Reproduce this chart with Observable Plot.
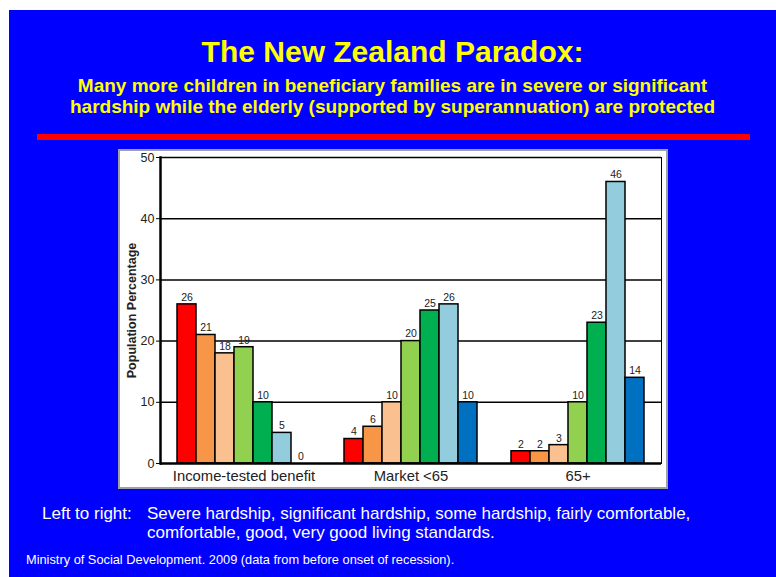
<!DOCTYPE html>
<html>
<head>
<meta charset="utf-8">
<script src="https://cdn.jsdelivr.net/npm/d3@7"></script>
<script src="https://cdn.jsdelivr.net/npm/@observablehq/plot@0.6"></script>
<style>
  html, body { margin: 0; padding: 0; background: #ffffff; }
  body { width: 776px; height: 577px; position: relative; overflow: hidden; font-family: Arial, "Liberation Sans", sans-serif; }
  #bg { position: absolute; left: 9px; top: 10px; width: 767px; height: 567px; background: #0000ff; }
  .t { position: absolute; white-space: nowrap; }
  #title { left: 9px; width: 767px; top: 37px; text-align: center; color: #ffff00; font-weight: bold; font-size: 30px; line-height: 30px; }
  #subtitle { left: 9px; width: 767px; top: 75px; text-align: center; color: #ffff00; font-weight: bold; font-size: 19px; line-height: 21px; }
  #redline { position: absolute; left: 37px; top: 134px; width: 713px; height: 6px; background: #ff0000; }
  #panel { position: absolute; left: 118px; top: 149px; border: 2px solid #a0a0a0; background: #ffffff; width: 546px; height: 336px; }
  #panel svg { display: block; overflow: visible; }
  #ltr { left: 42px; top: 504px; color: #ffffff; font-size: 17px; line-height: 19px; }
  #ltrtext { left: 147px; top: 504px; color: #ffffff; font-size: 17px; line-height: 19px; }
  #footer { left: 26px; top: 554px; color: #ffffff; font-size: 12.8px; line-height: 12px; }
</style>
</head>
<body>
<div id="bg"></div>
<div class="t" id="title">The New Zealand Paradox:</div>
<div class="t" id="subtitle">Many more children in beneficiary families are in severe or significant<br>hardship while the elderly (supported by superannuation) are protected</div>
<div id="redline"></div>
<div id="panel"></div>
<div class="t" id="ltr">Left to right:</div>
<div class="t" id="ltrtext">Severe hardship, significant hardship, some hardship, fairly comfortable,<br>comfortable, good, very good living standards.</div>
<div class="t" id="footer">Ministry of Social Development. 2009 (data from before onset of recession).</div>
<script>
const groups = ["Income-tested benefit", "Market <65", "65+"];
const levels = ["Severe hardship", "Significant hardship", "Some hardship", "Fairly comfortable", "Comfortable", "Good", "Very good"];
const incomeTested = [26, 21, 18, 19, 10, 5, 0];
const market65 = [4, 6, 10, 20, 25, 26, 10];
const over65 = [2, 2, 3, 10, 23, 46, 14];
const levelColors = ["#ff0000", "#f79646", "#fac090", "#92d050", "#00b050", "#93cddd", "#0070c0"];
const yTicks = [0, 10, 20, 30, 40, 50];
const gridValues = [10, 20, 30, 40, 50];
const yLabel = "Population Percentage";

const series = [incomeTested, market65, over65];
const data = groups.flatMap((g, gi) => levels.map((l, li) => ({group: g, level: l, value: series[gi][li]})));

const chart = Plot.plot({
  width: 546,
  height: 336,
  marginLeft: 40,
  marginTop: 6,
  marginRight: 5,
  marginBottom: 24,
  style: {background: "white", fontFamily: "Arial, 'Liberation Sans', sans-serif", color: "#222", overflow: "visible"},
  fx: {domain: groups, padding: 0, label: null},
  x: {domain: levels, paddingInner: 0, paddingOuter: 0.75, axis: null},
  y: {domain: [0, 50], label: null},
  color: {domain: levels, range: levelColors},
  marks: [
    Plot.ruleY(gridValues, {stroke: "black", strokeWidth: 1.5}),
    Plot.barY(data, {fx: "group", x: "level", y: "value", fill: "level", stroke: "black", strokeWidth: 1.5}),
    Plot.text(data, {fx: "group", x: "level", y: "value", text: d => String(d.value), dy: -7, fontSize: 10.5, fill: "#222"}),
    Plot.ruleY([0], {stroke: "black", strokeWidth: 2.5}),
    Plot.frame({anchor: "left", facetAnchor: "left", stroke: "black", strokeWidth: 2.5}),
    Plot.frame({anchor: "right", facetAnchor: "right", stroke: "black", strokeWidth: 1}),
    Plot.axisY({ticks: yTicks, tickSize: 4, tickPadding: 2, fontSize: 12.5, label: null, stroke: "black"}),
    Plot.axisY({ticks: [], label: yLabel, labelAnchor: "center", labelArrow: false, labelOffset: 33, fontWeight: "bold", fontSize: 12.5}),
    Plot.axisFx({anchor: "bottom", tickSize: 0, tickPadding: 7, fontSize: 14.8, label: null})
  ]
});
document.getElementById("panel").appendChild(chart);
</script>
</body>
</html>
